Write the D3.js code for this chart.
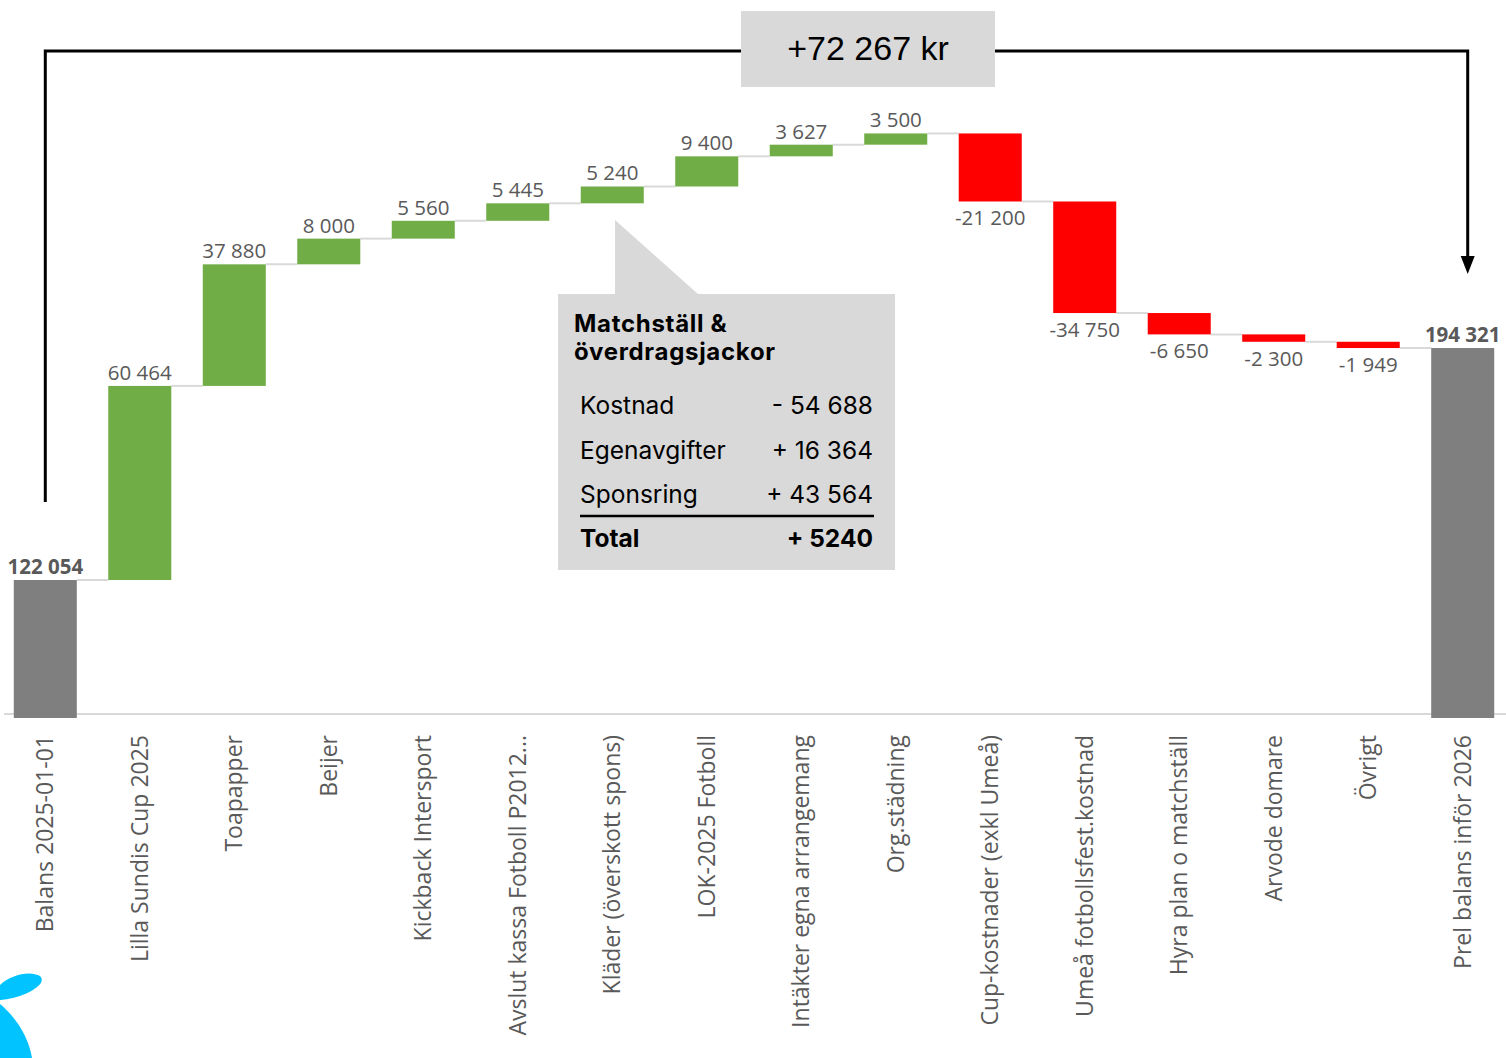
<!DOCTYPE html>
<html>
<head>
<meta charset="utf-8">
<script src="https://cdn.jsdelivr.net/npm/d3@7"></script>
<style>
    body { margin: 0; background: #fff; }
    svg { display: block; }
</style>
</head>
<body>
<svg id="chart" width="1506" height="1058"></svg>
<script>

// categories and values
let categories = ["Balans 2025-01-01", "Lilla Sundis Cup 2025", "Toapapper", "Beijer", "Kickback Intersport",
    "Avslut kassa Fotboll P2012...", "Kläder (överskott spons)", "LOK-2025 Fotboll", "Intäkter egna arrangemang",
    "Org.städning", "Cup-kostnader (exkl Umeå)", "Umeå fotbollsfest.kostnad", "Hyra plan o matchställ",
    "Arvode domare", "Övrigt", "Prel balans inför 2026"];
let startBalance = 122054;
let changes = [60464, 37880, 8000, 5560, 5445, 5240, 9400, 3627, 3500, -21200, -34750, -6650, -2300, -1949];
let totalChange = "+72 267 kr";

// callout table
let calloutTitle = ["Matchställ &", "överdragsjackor"];
let calloutRows = ["Kostnad", "Egenavgifter", "Sponsring"];
let calloutValues = ["- 54 688", "+ 16 364", "+ 43 564"];
let calloutTotal = ["Total", "+ 5240"];

let yTicks = [80000, 280000];

class Waterfall {

    constructor(svg) {
        this.svg = svg;
        this.baseY = 715;
    }

    fmt(v) {
        let s = d3.format(",")(Math.abs(v)).replace(/,/g, " ");
        return (v < 0 ? "-" : "") + s;
    }

    buildRows() {
        let rows = [];
        let run = startBalance;
        rows.push({name: categories[0], from: yTicks[0], to: startBalance, value: startBalance, kind: "total"});
        changes.forEach((c, i) => {
            rows.push({name: categories[i + 1], from: run, to: run + c, value: c, kind: c < 0 ? "neg" : "pos"});
            run += c;
        });
        rows.push({name: categories[categories.length - 1], from: yTicks[0], to: run, value: run, kind: "total"});
        return rows;
    }

    draw() {
        let svg = this.svg;
        let rows = this.buildRows();

        let x = d3.scaleBand()
            .domain(categories)
            .range([-2, 1510])
            .paddingInner(0.333)
            .paddingOuter(0.167);

        let y = d3.scaleLinear()
            .domain(yTicks)
            .range([this.baseY, 73]);

        let colors = {total: "#7f7f7f", pos: "#70ad47", neg: "#ff0000"};

        // axis line
        svg.append("line")
            .attr("x1", 4).attr("x2", 1506)
            .attr("y1", this.baseY - 1).attr("y2", this.baseY - 1)
            .attr("stroke", "#d9d9d9").attr("stroke-width", 2);

        // connectors
        for (let i = 0; i < rows.length - 1; i++) {
            let level = rows[i].to;
            svg.append("line")
                .attr("x1", x(rows[i].name) + x.bandwidth())
                .attr("x2", x(rows[i + 1].name))
                .attr("y1", y(level)).attr("y2", y(level))
                .attr("stroke", "#d9d9d9").attr("stroke-width", 2);
        }

        // bars
        svg.selectAll("rect.bar")
            .data(rows)
            .enter()
            .append("rect")
            .attr("class", "bar")
            .attr("x", d => x(d.name))
            .attr("width", x.bandwidth())
            .attr("y", d => y(Math.max(d.from, d.to)))
            .attr("height", d => {
                let h = Math.abs(y(d.from) - y(d.to));
                return d.kind === "total" ? h + 3 : h;
            })
            .attr("fill", d => colors[d.kind]);

        // value labels
        svg.selectAll("text.val")
            .data(rows)
            .enter()
            .append("text")
            .attr("class", "val")
            .attr("x", d => x(d.name) + x.bandwidth() / 2)
            .attr("y", d => d.kind === "neg" ? y(d.to) + 24 : y(d.to) - 6)
            .attr("text-anchor", "middle")
            .attr("font-family", "'Open Sans', sans-serif")
            .attr("font-size", 20.5)
            .attr("font-weight", d => d.kind === "total" ? "bold" : "normal")
            .attr("fill", "#595959")
            .text(d => this.fmt(d.value));

        // category labels
        svg.selectAll("text.cat")
            .data(rows)
            .enter()
            .append("text")
            .attr("class", "cat")
            .attr("transform", d => "translate(" + (x(d.name) + x.bandwidth() / 2) + ",735) rotate(-90)")
            .attr("dy", "0.35em")
            .attr("text-anchor", "end")
            .attr("font-family", "'Open Sans', sans-serif")
            .attr("font-size", 23)
            .attr("fill", "#595959")
            .text(d => d.name);

        this.drawBracket(x, y, rows);
        this.drawCallout();
        this.drawLogo();
    }

    drawBracket(x, y, rows) {
        let svg = this.svg;
        let xl = x(rows[0].name) + x.bandwidth() / 2;
        let xr = x(rows[rows.length - 1].name) + x.bandwidth() / 2 + 5;
        let top = 51;
        svg.append("path")
            .attr("d", "M" + xl + ",502 V" + top + " H" + xr + " V258")
            .attr("fill", "none")
            .attr("stroke", "#000")
            .attr("stroke-width", 3);
        svg.append("path")
            .attr("d", "M" + (xr - 7) + ",256 L" + (xr + 7) + ",256 L" + xr + ",274 Z")
            .attr("fill", "#000");

        svg.append("rect")
            .attr("x", 741).attr("y", 11)
            .attr("width", 254).attr("height", 76)
            .attr("fill", "#d9d9d9");
        svg.append("text")
            .attr("x", 868).attr("y", 60)
            .attr("text-anchor", "middle")
            .attr("font-family", "'Liberation Sans', Arial, sans-serif")
            .attr("font-size", 34)
            .attr("fill", "#000")
            .text(totalChange);
    }

    drawCallout() {
        let svg = this.svg;
        let g = svg.append("g");
        g.append("path")
            .attr("d", "M615,220 L698,294 L895,294 L895,570 L558,570 L558,294 L615,294 Z")
            .attr("fill", "#d9d9d9");

        g.selectAll("text.title")
            .data(calloutTitle)
            .enter()
            .append("text")
            .attr("x", 574)
            .attr("y", (d, i) => 332 + i * 28)
            .attr("font-family", "Inter, sans-serif")
            .attr("font-weight", "bold")
            .attr("font-size", 24)
            .attr("letter-spacing", 0.7)
            .attr("fill", "#000")
            .text(d => d);

        calloutRows.forEach((r, i) => {
            let yy = 414 + i * 44.5;
            g.append("text")
                .attr("x", 580).attr("y", yy)
                .attr("font-family", "Inter, sans-serif")
                .attr("font-size", 24.5)
                .attr("fill", "#000")
                .text(r);
            g.append("text")
                .attr("x", 873).attr("y", yy)
                .attr("text-anchor", "end")
                .attr("font-family", "Inter, sans-serif")
                .attr("font-size", 24.5)
                .attr("fill", "#000")
                .text(calloutValues[i]);
        });

        g.append("line")
            .attr("x1", 580).attr("x2", 874)
            .attr("y1", 516).attr("y2", 516)
            .attr("stroke", "#000").attr("stroke-width", 2.5);

        g.append("text")
            .attr("x", 580).attr("y", 547)
            .attr("font-family", "Inter, sans-serif")
            .attr("font-weight", "bold")
            .attr("font-size", 24.5)
            .text(calloutTotal[0]);
        g.append("text")
            .attr("x", 873).attr("y", 547)
            .attr("text-anchor", "end")
            .attr("font-family", "Inter, sans-serif")
            .attr("font-weight", "bold")
            .attr("font-size", 24.5)
            .text(calloutTotal[1]);
    }

    drawLogo() {
        // partial logo in the lower left corner
        let svg = this.svg;
        svg.append("path")
            .attr("d", "M0,985 C10,975 30,970 40,976 C46,982 36,990 20,996 C10,999 2,1000 0,1000 Z")
            .attr("fill", "#00c3ff");
        svg.append("path")
            .attr("d", "M0,1004 C14,1016 28,1034 32,1058 L0,1058 Z")
            .attr("fill", "#00c3ff");
    }
}

let chart = new Waterfall(d3.select("#chart"));
chart.draw();

</script>
</body>
</html>
